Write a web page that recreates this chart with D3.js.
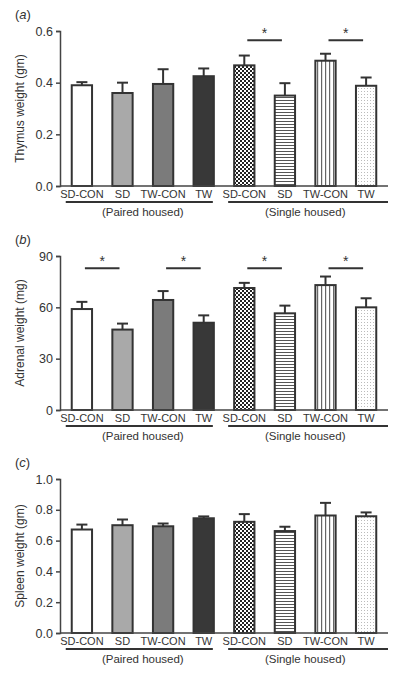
<!DOCTYPE html>
<html>
<head>
<meta charset="utf-8">
<script src="https://cdn.jsdelivr.net/npm/d3@7"></script>
<style>
html,body{margin:0;padding:0;background:#fff;}
svg{display:block;}
text{font-family:"Liberation Sans",Arial,sans-serif;fill:#333;}
</style>
</head>
<body>
<svg id="chart" width="400" height="673"></svg>
<script>
// ---- data ----
const categories = ["SD-CON","SD","TW-CON","TW","SD-CON","SD","TW-CON","TW"];
const groups = ["(Paired housed)","(Single housed)"];

const thymusMean = [0.390,0.360,0.395,0.425,0.467,0.350,0.485,0.388];
const thymusSem  = [0.012,0.040,0.057,0.030,0.038,0.048,0.027,0.032];
const thymusTicks = [0,0.2,0.4,0.6];
const thymusSig = [[4,5],[6,7]];

const adrenalMean = [59,47,64.3,51,71.3,56.5,73,60];
const adrenalSem  = [4.2,3.5,5.2,4.3,3.0,4.5,5.0,5.3];
const adrenalTicks = [0,30,60,90];
const adrenalSig = [[0,1],[2,3],[4,5],[6,7]];

const spleenMean = [0.672,0.700,0.693,0.745,0.722,0.662,0.763,0.758];
const spleenSem  = [0.032,0.037,0.018,0.012,0.050,0.028,0.082,0.025];
const spleenTicks = [0,0.2,0.4,0.6,0.8,1.0];
const spleenSig = [];

// ---- drawing ----
const svg = d3.select("#chart");
const defs = svg.append("defs");

// patterns
const pc = defs.append("pattern").attr("id","checker").attr("patternUnits","userSpaceOnUse").attr("width",4).attr("height",4);
pc.append("rect").attr("width",4).attr("height",4).attr("fill","#fff");
pc.append("rect").attr("width",2).attr("height",2).attr("fill","#222");
pc.append("rect").attr("x",2).attr("y",2).attr("width",2).attr("height",2).attr("fill","#222");

const ph = defs.append("pattern").attr("id","hlines").attr("patternUnits","userSpaceOnUse").attr("width",4).attr("height",3);
ph.append("rect").attr("width",4).attr("height",3).attr("fill","#fff");
ph.append("rect").attr("y",1).attr("width",4).attr("height",1).attr("fill","#555");

const pv = defs.append("pattern").attr("id","vlines").attr("patternUnits","userSpaceOnUse").attr("width",4).attr("height",4);
pv.append("rect").attr("width",4).attr("height",4).attr("fill","#fff");
pv.append("rect").attr("x",1).attr("width",1.2).attr("height",4).attr("fill","#666");

const pd = defs.append("pattern").attr("id","dots").attr("patternUnits","userSpaceOnUse").attr("width",3).attr("height",3);
pd.append("rect").attr("width",3).attr("height",3).attr("fill","#fff");
pd.append("rect").attr("x",1).attr("y",1).attr("width",1).attr("height",1).attr("fill","#bbb");

const fills = ["#ffffff","#a9a9a9","#7b7b7b","#383838","url(#checker)","url(#hlines)","url(#vlines)","url(#dots)"];

const x = d3.scaleBand().domain(d3.range(categories.length)).range([62,386]).paddingInner(0.5).paddingOuter(0.24);
const axisLeft = 60, axisRight = 388;

function panel(opts){
  const {label, title, means, sems, ticks, fmt, sig, sigLevel, top, bottom, max} = opts;
  const y = d3.scaleLinear().domain([0,max]).range([bottom, top]);
  const g = svg.append("g");

  // panel label
  const pl = g.append("text").attr("x",15).attr("y",top-12).attr("font-size",13);
  pl.append("tspan").text("(");
  pl.append("tspan").attr("font-style","italic").text(label);
  pl.append("tspan").text(")");

  // y axis
  const ax = g.append("g").attr("transform",`translate(${axisLeft},0)`)
    .call(d3.axisLeft(y).tickValues(ticks).tickFormat(d3.format(fmt)).tickSize(4).tickPadding(3));
  ax.select(".domain").attr("stroke","#444").attr("stroke-width",1.5);
  ax.selectAll(".tick line").attr("stroke","#444").attr("stroke-width",1.5);
  ax.selectAll(".tick text").attr("font-size",12.5).attr("fill","#333")
    .attr("font-family","'Liberation Sans',Arial,sans-serif");

  // y title
  g.append("text").attr("transform",`translate(24,${(top+bottom)/2}) rotate(-90)`)
    .attr("text-anchor","middle").attr("font-size",12).text(title);

  // bars
  g.selectAll("rect.bar").data(means).join("rect").attr("class","bar")
    .attr("x",(d,i)=>x(i)).attr("width",x.bandwidth())
    .attr("y",d=>y(d)).attr("height",d=>bottom-y(d))
    .attr("fill",(d,i)=>fills[i]).attr("stroke","#333").attr("stroke-width",2);

  // error bars
  const eb = g.selectAll("g.err").data(means).join("g").attr("class","err");
  eb.append("line").attr("x1",(d,i)=>x(i)+x.bandwidth()/2).attr("x2",(d,i)=>x(i)+x.bandwidth()/2)
    .attr("y1",d=>y(d)).attr("y2",(d,i)=>y(d+sems[i])).attr("stroke","#333").attr("stroke-width",2);
  eb.append("line").attr("x1",(d,i)=>x(i)+x.bandwidth()/2-5.5).attr("x2",(d,i)=>x(i)+x.bandwidth()/2+5.5)
    .attr("y1",(d,i)=>y(d+sems[i])).attr("y2",(d,i)=>y(d+sems[i])).attr("stroke","#333").attr("stroke-width",2);

  // x axis line
  g.append("line").attr("x1",axisLeft).attr("x2",axisRight).attr("y1",bottom).attr("y2",bottom)
    .attr("stroke","#444").attr("stroke-width",1.5);

  // category labels
  g.selectAll("text.cat").data(categories).join("text").attr("class","cat")
    .attr("x",(d,i)=>x(i)+x.bandwidth()/2).attr("y",bottom+12)
    .attr("text-anchor","middle").attr("font-size",11)
    .attr("font-family","'Liberation Sans Narrow','Liberation Sans',Arial,sans-serif")
    .text(d=>d);

  // group lines + labels
  const gspan = [[x(0)-6, x(3)+x.bandwidth()-1],[x(4)-6, axisRight]];
  gspan.forEach((s,k)=>{
    g.append("line").attr("x1",s[0]).attr("x2",s[1]).attr("y1",bottom+16).attr("y2",bottom+16)
      .attr("stroke","#333").attr("stroke-width",1.8);
    g.append("text").attr("x",(x(k*4)+x(k*4+3)+x.bandwidth())/2).attr("y",bottom+30)
      .attr("text-anchor","middle").attr("font-size",11.5).text(groups[k]);
  });

  // significance
  sig.forEach(([a,b])=>{
    const ca = x(a)+x.bandwidth()/2+3, cb = x(b)+x.bandwidth()/2-3;
    g.append("line").attr("x1",ca).attr("x2",cb).attr("y1",y(sigLevel)).attr("y2",y(sigLevel))
      .attr("stroke","#333").attr("stroke-width",2);
    g.append("text").attr("x",(ca+cb)/2).attr("y",y(sigLevel)-2).attr("text-anchor","middle")
      .attr("font-size",14).text("*");
  });
}

panel({label:"a", title:"Thymus weight (gm)", means:thymusMean, sems:thymusSem, ticks:thymusTicks, fmt:".1f",
  sig:thymusSig, sigLevel:0.564, top:31, bottom:186, max:0.6});
panel({label:"b", title:"Adrenal weight (mg)", means:adrenalMean, sems:adrenalSem, ticks:adrenalTicks, fmt:"d",
  sig:adrenalSig, sigLevel:82.8, top:256, bottom:410, max:90});
panel({label:"c", title:"Spleen weight (gm)", means:spleenMean, sems:spleenSem, ticks:spleenTicks, fmt:".1f",
  sig:spleenSig, sigLevel:0, top:479, bottom:633, max:1.0});
</script>
</body>
</html>
